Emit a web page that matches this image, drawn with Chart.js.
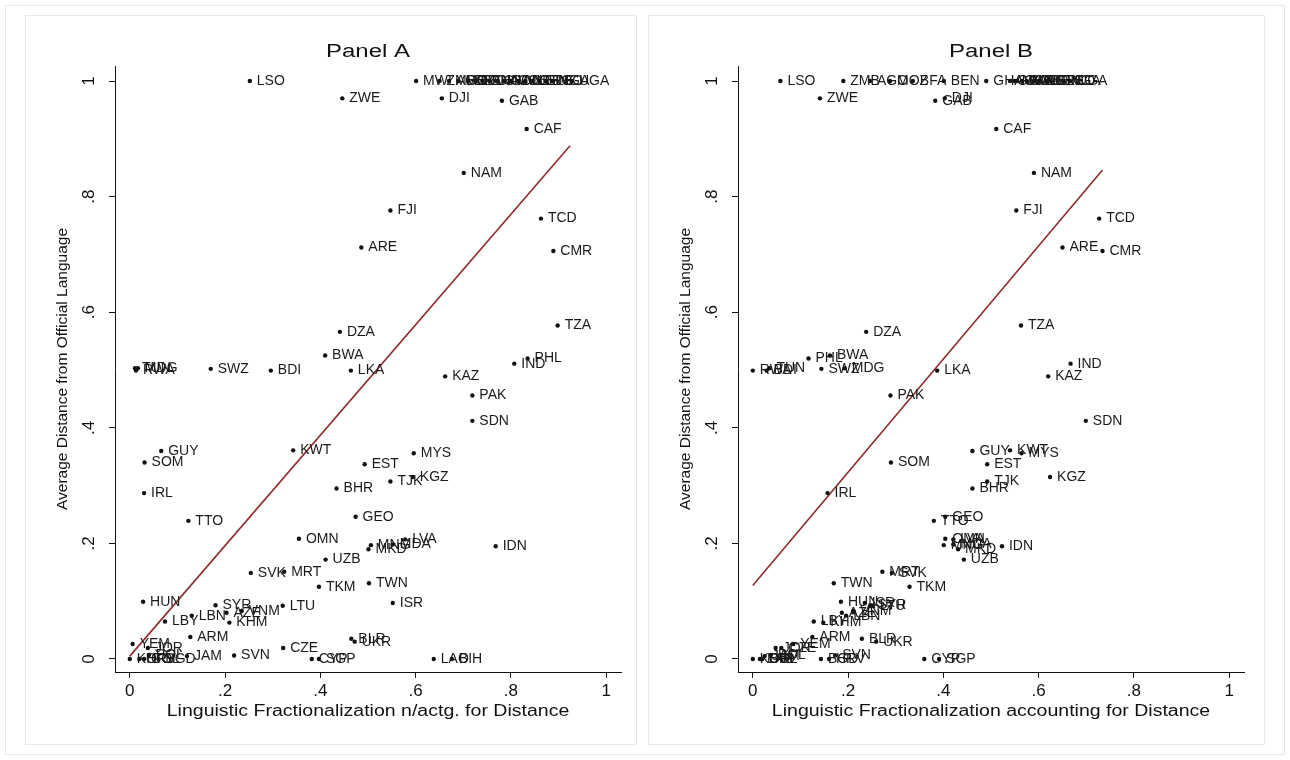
<!DOCTYPE html>
<html>
<head>
<meta charset="utf-8">
<script src="https://cdn.jsdelivr.net/npm/chart.js@4.4.0/dist/chart.umd.min.js"></script>
<style>
  body { margin: 0; background: #fff; width: 1290px; height: 760px; position: relative; overflow: hidden; }
  .frame { position: absolute; border: 1px solid #e2e8ec; box-sizing: border-box; }
  canvas { position: absolute; }
</style>
</head>
<body>
<div class="frame" style="left:5px;top:5px;width:1280px;height:750px"></div>
<div class="frame" style="left:25px;top:15px;width:612px;height:730px"></div>
<div class="frame" style="left:648px;top:15px;width:617px;height:730px"></div>
<canvas id="panelA" width="612" height="730" style="left:25px;top:15px"></canvas>
<canvas id="panelB" width="617" height="730" style="left:648px;top:15px"></canvas>
<script>
// country codes
const countries = [
  'LSO','MWI','ZMB','AGO','MOZ','BFA','BEN','GHA','GIN','CIV','COD','COG','MLI','NER','SEN','SLE','TGO','NGA','UGA',
  'ZWE','DJI','GAB','CAF','NAM','FJI','TCD','ARE','CMR','TZA','DZA','BWA','PHL','IND','TUN','MDG','SWZ','RWA','BDI',
  'LKA','KAZ','PAK','SDN','GUY','KWT','MYS','SOM','EST','KGZ','TJK','BHR','IRL','GEO','TTO','OMN','LVA','MNG','MDA',
  'MKD','IDN','UZB','MRT','SVK','TWN','TKM','HUN','ISR','SYR','LTU','VNM','AZE','LBN','LBY','KHM','ARM','BLR','UKR',
  'YEM','JOR','CZE','SVN','POL','JAM','KOR','HRV','BGD','COL','CYP','SGP','LAO','BIH'
];

// average distance from official language (y, same in both panels)
const distOfficial = [
  1, 1, 1, 1, 1, 1, 1, 1, 1, 1, 1, 1, 1, 1, 1, 1, 1, 1, 1,
  0.970, 0.970, 0.966, 0.917, 0.841, 0.776, 0.762, 0.712, 0.706, 0.577, 0.566, 0.525, 0.520, 0.511, 0.503, 0.503, 0.502, 0.499, 0.499,
  0.499, 0.489, 0.456, 0.412, 0.360, 0.361, 0.356, 0.340, 0.337, 0.315, 0.307, 0.295, 0.287, 0.246, 0.239, 0.208, 0.207, 0.197, 0.198,
  0.190, 0.195, 0.172, 0.151, 0.149, 0.131, 0.125, 0.099, 0.097, 0.093, 0.092, 0.083, 0.080, 0.075, 0.065, 0.063, 0.038, 0.035, 0.030,
  0.026, 0.019, 0.019, 0.006, 0.007, 0.005, 0, 0, 0, 0, 0, 0, 0, 0
];

// Panel A: linguistic fractionalization, not accounting for distance
const fracNoDist = [
  0.252, 0.601, 0.650, 0.670, 0.690, 0.710, 0.725, 0.740, 0.755, 0.770, 0.785, 0.800, 0.815, 0.830, 0.845, 0.860, 0.873, 0.886, 0.928,
  0.446, 0.655, 0.781, 0.833, 0.701, 0.547, 0.863, 0.486, 0.889, 0.898, 0.441, 0.410, 0.835, 0.807, 0.011, 0.017, 0.170, 0.013, 0.296,
  0.464, 0.662, 0.719, 0.719, 0.066, 0.343, 0.596, 0.031, 0.493, 0.594, 0.547, 0.434, 0.030, 0.474, 0.123, 0.355, 0.578, 0.506, 0.552,
  0.501, 0.768, 0.411, 0.324, 0.254, 0.502, 0.397, 0.028, 0.552, 0.180, 0.321, 0.235, 0.203, 0.130, 0.074, 0.209, 0.127, 0.465, 0.472,
  0.006, 0.038, 0.322, 0.219, 0.040, 0.120, 0.000, 0.020, 0.060, 0.030, 0.382, 0.397, 0.638, 0.676
];

// Panel B: linguistic fractionalization accounting for distance
const fracDist = [
  0.058, 0.550, 0.190, 0.246, 0.288, 0.336, 0.401, 0.490, 0.540, 0.555, 0.565, 0.575, 0.590, 0.600, 0.615, 0.625, 0.640, 0.652, 0.666,
  0.141, 0.403, 0.383, 0.511, 0.590, 0.553, 0.727, 0.650, 0.734, 0.563, 0.238, 0.162, 0.117, 0.667, 0.035, 0.193, 0.144, 0.000, 0.029,
  0.387, 0.620, 0.289, 0.699, 0.461, 0.540, 0.564, 0.290, 0.492, 0.624, 0.492, 0.461, 0.157, 0.404, 0.380, 0.404, 0.421, 0.401, 0.421,
  0.431, 0.523, 0.443, 0.272, 0.292, 0.170, 0.329, 0.185, 0.235, 0.247, 0.252, 0.211, 0.187, 0.196, 0.128, 0.148, 0.125, 0.229, 0.259,
  0.085, 0.048, 0.060, 0.173, 0.038, 0.025, 0.000, 0.160, 0.143, 0.019, 0.360, 0.391, 0.015, 0.020
];

// fitted lines (end points)
const fitAx = [0, 0.924];
const fitAy = [0.005, 0.888];
const fitBx = [0, 0.734];
const fitBy = [0.127, 0.846];

const xTicks = [0, 0.2, 0.4, 0.6, 0.8, 1];
const xTickLabels = ['0', '.2', '.4', '.6', '.8', '1'];
const yTicks = [0, 0.2, 0.4, 0.6, 0.8, 1];
const yTickLabels = ['0', '.2', '.4', '.6', '.8', '1'];

const FONT = '"Liberation Sans", Arial, Helvetica, sans-serif';
const INK = '#111';
const FIT_COLOR = '#8e2b2b';

const pointLabels = {
  id: 'pointLabels',
  afterDatasetsDraw(chart) {
    const ctx = chart.ctx;
    const meta = chart.getDatasetMeta(0);
    ctx.save();
    ctx.font = '14px ' + FONT;
    ctx.fillStyle = '#1a1a1a';
    ctx.textAlign = 'left';
    ctx.textBaseline = 'middle';
    meta.data.forEach((pt, i) => {
      ctx.fillText(countries[i], pt.x + 7, pt.y);
    });
    ctx.restore();
  }
};

// stretched text, as in the Stata export
function wideText(ctx, text, x, y, size, sx) {
  ctx.save();
  ctx.font = size + 'px ' + FONT;
  ctx.fillStyle = INK;
  ctx.textAlign = 'center';
  ctx.textBaseline = 'middle';
  ctx.translate(x, y);
  ctx.scale(sx, 1);
  ctx.fillText(text, 0, 0);
  ctx.restore();
}

// panel title, x title and vertical y tick labels
const stataText = {
  id: 'stataText',
  afterDraw(chart, args, opts) {
    const ctx = chart.ctx;
    const area = chart.chartArea;
    const cx = (area.left + area.right) / 2;
    wideText(ctx, opts.title, cx, 37, 18, 1.33);
    wideText(ctx, opts.xTitle, cx, 697, 16, 1.22);

    const s = chart.scales.y;
    ctx.save();
    ctx.font = '17px ' + FONT;
    ctx.fillStyle = INK;
    ctx.textAlign = 'center';
    ctx.textBaseline = 'middle';
    s.ticks.forEach((t, i) => {
      const y = s.getPixelForValue(t.value);
      ctx.save();
      ctx.translate(s.right - 26, y);
      ctx.rotate(-Math.PI / 2);
      ctx.fillText(yTickLabels[i], 0, 0);
      ctx.restore();
    });
    ctx.restore();
  }
};

function makePanel(id, title, xTitle, xs, fx, fy, rightPad) {
  const pts = countries.map((c, i) => ({ x: xs[i], y: distOfficial[i] }));
  const fit = fx.map((x, i) => ({ x: x, y: fy[i] }));
  return new Chart(document.getElementById(id), {
    type: 'scatter',
    data: {
      datasets: [
        {
          data: pts,
          pointRadius: 2.2,
          pointHoverRadius: 2.2,
          pointBackgroundColor: INK,
          pointBorderWidth: 0
        },
        {
          type: 'line',
          data: fit,
          borderColor: FIT_COLOR,
          borderWidth: 1.6,
          pointRadius: 0,
          fill: false
        }
      ]
    },
    options: {
      responsive: false,
      animation: false,
      devicePixelRatio: 1,
      layout: { padding: { left: 0, right: rightPad, top: 51, bottom: 0 } },
      plugins: {
        legend: { display: false },
        tooltip: { enabled: false },
        stataText: { title: title, xTitle: xTitle }
      },
      scales: {
        x: {
          type: 'linear',
          min: -0.031,
          max: 1.031,
          afterBuildTicks: s => { s.ticks = xTicks.map(v => ({ value: v })); },
          afterFit: s => { s.height = 73; },
          border: { display: true, color: INK, width: 1 },
          grid: { drawOnChartArea: false, drawTicks: true, tickLength: 6, tickColor: INK, tickWidth: 1 },
          ticks: {
            color: INK,
            padding: 3,
            maxRotation: 0,
            font: { family: FONT, size: 17 },
            callback: (v, i) => xTickLabels[i]
          }
        },
        y: {
          type: 'linear',
          min: -0.0225,
          max: 1.026,
          afterBuildTicks: s => { s.ticks = yTicks.map(v => ({ value: v })); },
          afterFit: s => { s.width = 90; },
          border: { display: true, color: INK, width: 1 },
          grid: { drawOnChartArea: false, drawTicks: true, tickLength: 6, tickColor: INK, tickWidth: 1 },
          ticks: { display: false },
          title: {
            display: true,
            text: 'Average Distance from Official Language',
            color: INK,
            font: { family: FONT, size: 15.5 },
            padding: { top: 28, bottom: 0 }
          }
        }
      }
    },
    plugins: [pointLabels, stataText]
  });
}

makePanel('panelA', 'Panel A', 'Linguistic Fractionalization n/actg. for Distance',
  fracNoDist, fitAx, fitAy, 16);
makePanel('panelB', 'Panel B', 'Linguistic Fractionalization accounting for Distance',
  fracDist, fitBx, fitBy, 21);
</script>
</body>
</html>
